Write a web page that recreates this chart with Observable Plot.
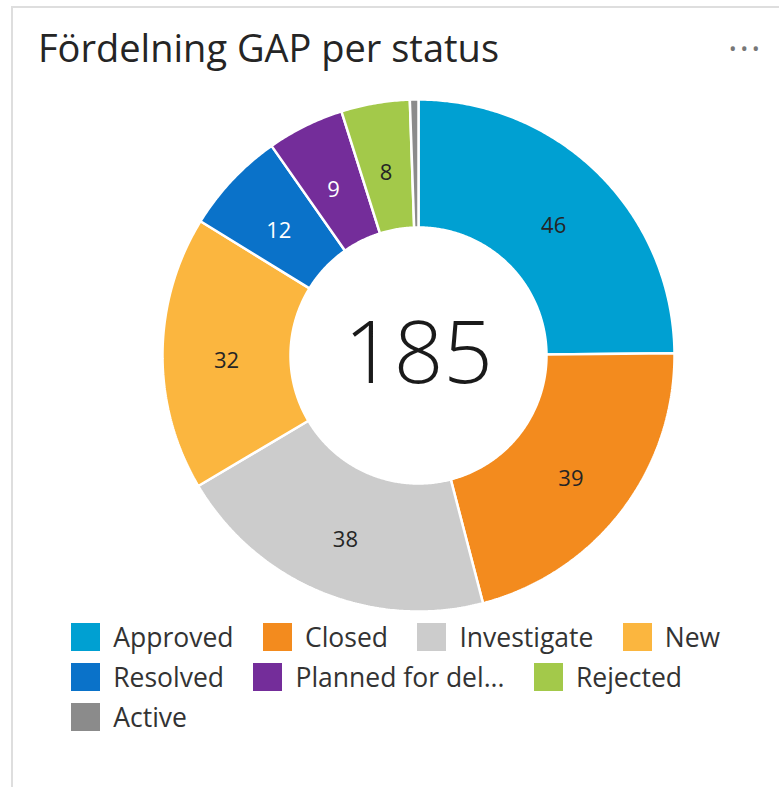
<!DOCTYPE html>
<html>
<head>
<meta charset="utf-8">
<script src="https://cdn.jsdelivr.net/npm/d3@7"></script>
<script src="https://cdn.jsdelivr.net/npm/@observablehq/plot@0.6"></script>
<style>
  html, body { margin: 0; padding: 0; background: #fff; }
  body { width: 779px; height: 787px; overflow: hidden; position: relative; font-family: "Open Sans", "Noto Sans", sans-serif; }
  #card { position: absolute; left: 11px; top: 6px; width: 820px; height: 820px; border-left: 2px solid #dedede; border-top: 2px solid #dedede; box-sizing: border-box; }
  #title { position: absolute; left: 38px; top: 28px; font-size: 38px; line-height: 1; color: #252525; white-space: nowrap; }
  #more { position: absolute; left: 729px; top: 35px; font-size: 20px; line-height: 28px; letter-spacing: 4px; color: #777; white-space: nowrap; }
  #chart { position: absolute; left: 0; top: 90px; }
  #legend { position: absolute; left: 71px; top: 617px; width: 700px; color: #333; }
  #legend [class$="-swatch"] { height: 40px; margin-right: 1.1em; }
</style>
</head>
<body>
<div id="card"></div>
<div id="title"></div>
<div id="more"></div>
<div id="chart"></div>
<div id="legend"></div>
<script>
// ---- data ----
const titleText = "Fördelning GAP per status";
const moreText = "•••";
const statuses = ["Approved", "Closed", "Investigate", "New", "Resolved", "Planned for del...", "Rejected", "Active"];
const counts = [46, 39, 38, 32, 12, 9, 8, 1];
const colors = ["#00a0d2", "#f38b1e", "#cccccc", "#fbb63f", "#0a72c9", "#742d9a", "#a3c94a", "#8b8b8b"];

document.getElementById("title").textContent = titleText;
document.getElementById("more").textContent = moreText;

const rows = statuses.map((s, i) => ({status: s, count: counts[i], color: colors[i]}));
const total = d3.sum(counts);

// ring geometry derived from the values (unit radius, inner radius 0.5)
const R = 1, R0 = 0.5, RL = 0.75;
const arcs = d3.pie().sort(null).value(d => d.count)(rows);
const ring = arcs.flatMap(a => {
  const n = Math.max(2, Math.ceil((a.endAngle - a.startAngle) / (Math.PI / 360)));
  const pts = [];
  for (let i = 0; i <= n; i++) {
    const t = a.startAngle + (a.endAngle - a.startAngle) * i / n;
    pts.push({status: a.data.status, x: R * Math.sin(t), y: R * Math.cos(t)});
  }
  for (let i = n; i >= 0; i--) {
    const t = a.startAngle + (a.endAngle - a.startAngle) * i / n;
    pts.push({status: a.data.status, x: R0 * Math.sin(t), y: R0 * Math.cos(t)});
  }
  return pts;
});
const labels = arcs.filter(a => a.data.count > 2).map(a => {
  const m = (a.startAngle + a.endAngle) / 2;
  return {x: RL * Math.sin(m), y: RL * Math.cos(m), text: String(a.data.count), dark: d3.hcl(a.data.color).l < 55};
});

const chart = Plot.plot({
  width: 779,
  height: 530,
  marginLeft: 162,
  marginRight: 105,
  marginTop: 9,
  marginBottom: 9,
  style: {fontFamily: "'Open Sans', 'Noto Sans', sans-serif", background: "transparent", overflow: "visible"},
  x: {domain: [-1, 1], axis: null},
  y: {domain: [-1, 1], axis: null},
  color: {domain: statuses, range: colors},
  marks: [
    Plot.line(ring, {x: "x", y: "y", z: "status", fill: "status", stroke: "white", strokeWidth: 2.5, strokeLinejoin: "miter", curve: "linear-closed"}),
    Plot.text(labels.filter(d => !d.dark), {x: "x", y: "y", text: "text", fill: "#252525", fontSize: 22, dy: 7}),
    Plot.text(labels.filter(d => d.dark), {x: "x", y: "y", text: "text", fill: "white", fontSize: 22, dy: 7}),
    Plot.text([total], {x: () => 0, y: () => 0, text: d => String(d), fill: "#1a1a1a", fontSize: 87, fontWeight: 300, dy: 0})
  ]
});
document.getElementById("chart").appendChild(chart);

const legend = Plot.legend({
  color: {domain: statuses, range: colors},
  legend: "swatches",
  swatchWidth: 29,
  swatchHeight: 28,
  className: "lg",
  style: {fontSize: "26.5px", fontFamily: "'Open Sans', 'Noto Sans', sans-serif", color: "#333", marginBottom: 0}
});
document.getElementById("legend").appendChild(legend);
</script>
</body>
</html>
